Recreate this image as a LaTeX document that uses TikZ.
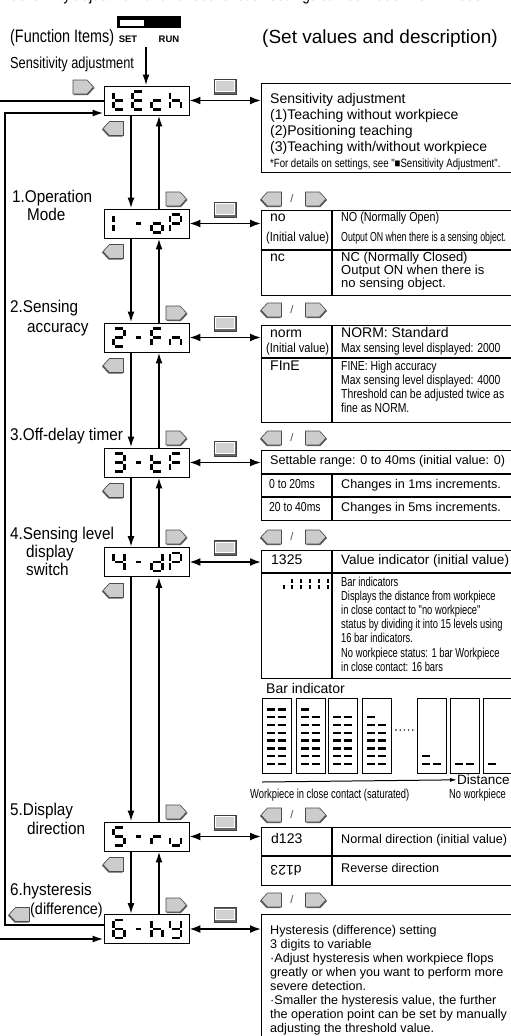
\documentclass[tikz,border=0pt]{standalone}
\usepackage{fontspec}
\usepackage{graphicx}
\setmainfont{Liberation Sans}
\newfontfamily\cnd[FakeStretch=0.8]{Liberation Sans}
\newfontfamily\cnn[FakeStretch=0.72]{Liberation Sans}
\newfontfamily\lab[FakeStretch=0.9]{Liberation Sans}
\usetikzlibrary{arrows.meta}
\newcommand\fs[1]{\fontsize{#1}{#1}\selectfont}
\newcommand\fitto[2]{\resizebox{#1}{\height}{#2}}
% seven segment pieces (cell centre = origin, y down)
\newcommand\SgA{\draw[seg] (-4,-9)--(4,-9);}
\newcommand\SgB{\draw[seg] (5.5,-7.6)--(5.5,-1.2);}
\newcommand\SgC{\draw[seg] (5.5,1.2)--(5.5,7.6);}
\newcommand\SgD{\draw[seg] (-4,9)--(4,9);}
\newcommand\SgE{\draw[seg] (-5.5,1.2)--(-5.5,7.6);}
\newcommand\SgF{\draw[seg] (-5.5,-7.6)--(-5.5,-1.2);}
\newcommand\SgG{\draw[seg] (-4,0)--(4,0);}
\newcommand\SgH{\draw[seg] (-2.5,0)--(2.5,0);}
\newcommand\Ch[3]{\begin{scope}[shift={(#1,#2)}]#3\end{scope}}
\newcommand\Disp[6]{%
  \node[disp] (#1) at (146.5,#2) {};
  \Ch{119}{#2}{#3}\Ch{138}{#2}{#4}\Ch{157}{#2}{#5}\Ch{175.5}{#2}{#6}}
\newcommand\KeyPair[1]{%
  \pic at (271,#1) {lkey};
  \node[inner sep=0pt,font=\fs{11},text=black!70] at (292,#1) {/};
  \pic at (316,#1) {rkey};}
\newcommand\Bars[2]{%
  \foreach \k in {1,...,8}{%
    \pgfmathsetmacro\yy{764-(\k-1)*7.8}
    \ifnum\numexpr2*\k\relax<\numexpr#2+1\relax
      \draw[barl] ({#1+5},\yy) -- ({#1+13},\yy);
      \draw[barl] ({#1+15.5},\yy) -- ({#1+23.5},\yy);
    \else\ifnum\numexpr2*\k-1\relax=#2
      \draw[barl] ({#1+5},\yy) -- ({#1+13},\yy);
    \fi\fi}}
\tikzset{
  seg/.style={line width=2.4pt,line cap=butt},
  disp/.style={draw,line width=0.9pt,minimum width=85pt,minimum height=29pt,inner sep=0pt,fill=white},
  tbl/.style={draw,line width=1.2pt,anchor=north west,minimum width=255pt,inner sep=0pt},
  tline/.style={line width=1.1pt},
  conn/.style={line width=1.8pt},
  arr/.style={conn,-{Latex[length=11pt,width=7pt]}},
  dbl/.style={conn,{Latex[length=11pt,width=8pt]}-{Latex[length=11pt,width=8pt]}},
  txt/.style={inner sep=0pt,anchor=mid west},
  barbox/.style={draw,line width=1.1pt,anchor=north west,minimum width=29pt,minimum height=75pt,inner sep=0pt},
  barl/.style={line width=2.4pt},
  rkey/.pic={
    \fill[black!65] (-9.5,-6) -- (4.5,-6) -- (11,1) -- (4.5,8) -- (-9.5,8) -- cycle;
    \filldraw[fill=black!20,draw=black!70,line width=0.6pt,line join=round]
      (-10.5,-7) -- (3.5,-7) -- (10,0) -- (3.5,7) -- (-10.5,7) -- cycle;},
  lkey/.pic={
    \fill[black!65] (9.5,-6) -- (-4.5,-6) -- (-11,1) -- (-4.5,8) -- (9.5,8) -- cycle;
    \filldraw[fill=black!20,draw=black!70,line width=0.6pt,line join=round]
      (10.5,-7) -- (-3.5,-7) -- (-10,0) -- (-3.5,7) -- (10.5,7) -- cycle;},
  skey/.pic={
    \filldraw[fill=black!60,draw=black!75,line width=0.5pt] (-11,-7.5) rectangle (11,7.5);
    \filldraw[fill=black!18,draw=white,line width=0.5pt] (-9.5,-6) rectangle (9,4.5);},
}
\begin{document}
\begin{tikzpicture}[x=1pt,y=-1pt]
\useasboundingbox (0,0) rectangle (511,1036);
\fill[white] (0,0) rectangle (511,1036);

% heading line (cut at top)
\node[inner sep=0pt,anchor=base west,font=\cnd\fs{17}] (toptxt) at (9,0.5)
  {Sensitivity adjustment and various function settings can be made in SET mode.};

% switch
\node[fill=black,minimum width=64pt,minimum height=12pt,inner sep=0pt,anchor=north west] (sw) at (117,16) {};
\fill[white] (120,19.5) rectangle (144,25.5);
\node[inner sep=0pt,font=\bfseries\fs{9.5}] (set) at (128,39) {SET};
\node[inner sep=0pt,font=\bfseries\fs{9.5}] (run) at (169,39) {RUN};

\node[txt,font=\cnd\fs{18}] (fi) at (10,40) {(Function Items)};
\node[txt,font=\fs{19}] (sv) at (262,41) {(Set values and description)};
\node[txt,font=\cnd\fs{16}] (sa) at (10,66) {Sensitivity adjustment};

% displays
\Disp{b0}{100.5}{\SgF\SgE\SgG\SgD}{\SgA\SgF\SgG\SgE\SgD}{\SgG\SgE\SgD}{\SgF\SgE\SgG\SgC}
\Disp{b1}{223.5}{\SgF\SgE}{\SgH}{\SgG\SgC\SgD\SgE}{\SgA\SgB\SgF\SgG\SgE}
\Disp{b2}{337.5}{\SgA\SgB\SgG\SgE\SgD}{\SgH}{\SgA\SgF\SgG\SgE}{\SgG\SgE\SgC}
\Disp{b3}{462.5}{\SgA\SgB\SgG\SgC\SgD}{\SgH}{\SgF\SgE\SgG\SgD}{\SgA\SgF\SgG\SgE}
\Disp{b4}{562}{\SgF\SgG\SgB\SgC}{\SgH}{\SgB\SgC\SgD\SgE\SgG}{\SgA\SgB\SgF\SgG\SgE}
\Disp{b5}{836.5}{\SgA\SgF\SgG\SgC\SgD}{\SgH}{\SgE\SgG}{\SgE\SgD\SgC}
\Disp{b6}{929}{\SgA\SgF\SgG\SgE\SgD\SgC}{\SgH}{\SgF\SgE\SgG\SgC}{\SgF\SgG\SgB\SgC\SgD}

% SET arrow
\coordinate (setarr) at (146,47);
\draw[arr] (setarr) -- (b0.north -| setarr);

% vertical arrows
\coordinate (dx) at (131,0);
\coordinate (ux) at (159,0);
\foreach \a/\b in {b0/b1,b1/b2,b2/b3,b3/b4,b4/b5,b5/b6}{
  \draw[arr] (\a.south -| dx) -- (\b.north -| dx);
  \draw[arr] (\b.north -| ux) -- (\a.south -| ux);
}

% loops
\coordinate (o1) at (-1,101);
\coordinate (o2) at (-1,939);
\draw[arr] (b0.west |- o1) -- (o1) -- (o2) -- (b6.west |- o2);
\coordinate (i1) at (5,925);
\coordinate (i2) at (5,113);
\draw[arr] (b6.west |- i1) -- (i1) -- (i2) -- (b0.west |- i2);

% key icons near displays
\pic at (83.5,87) {rkey};
\foreach \t in {209,323,448,547,822,915}{\pic at (176.5,\t-10) {rkey};}
\foreach \bt in {115,238,352,477,577,851}{\pic at (113,\bt+13.5) {lkey};}
\pic at (19,914.5) {lkey};
\foreach \ay in {100.5,223.5,337.5,462.5,562,836.5,929}{\pic at (225,\ay-14) {skey};}

% left labels
\node[txt,font=\lab\fs{17}] (l1a) at (12,200) {1.Operation};
\node[txt,font=\lab\fs{17}] (l1b) at (27,218) {Mode};
\node[txt,font=\lab\fs{17}] (l2a) at (10,310) {2.Sensing};
\node[txt,font=\lab\fs{17}] (l2b) at (27,330) {accuracy};
\node[txt,font=\lab\fs{17}] (l3a) at (10,438) {3.Off-delay timer};
\node[txt,font=\lab\fs{17}] (l4a) at (10,537) {4.Sensing level};
\node[txt,font=\lab\fs{17}] (l4b) at (26,555) {display};
\node[txt,font=\lab\fs{17}] (l4c) at (26,573) {switch};
\node[txt,font=\lab\fs{17}] (l5a) at (10,813) {5.Display};
\node[txt,font=\lab\fs{17}] (l5b) at (27,832) {direction};
\node[txt,font=\lab\fs{17}] (l6a) at (10,893) {6.hysteresis};
\node[txt,font=\lab\fs{16}] (l6b) at (30,912) {(difference)};

% ---------- right column ----------
% table 0
\node[tbl,minimum height=89pt] (t0) at (261,83) {};
\node[txt,font=\fs{14}] at (270,101) {Sensitivity adjustment};
\node[txt,font=\fs{14}] at (270,117) {(1)Teaching without workpiece};
\node[txt,font=\fs{14}] at (270,133) {(2)Positioning teaching};
\node[txt,font=\fs{14}] at (270,149) {(3)Teaching with/without workpiece};
\node[txt,font=\cnd\fs{12}] at (270,165) {*For details on settings, see "■Sensitivity Adjustment".};

% table 1
\KeyPair{199}
\node[tbl,minimum height=85pt] (t1) at (261,210) {};
\draw[tline] (261,250) -- (516,250);
\draw[tline] (332,210) -- (332,295);
\node[txt,font=\fs{14}] at (270,219) {no};
\node[txt,font=\cnd\fs{13}] at (266,239) {\fitto{63pt}{(Initial value)}};
\node[txt,font=\cnd\fs{13}] at (341,219) {\fitto{98pt}{NO (Normally Open)}};
\node[txt,font=\cnd\fs{13}] at (341,239) {\fitto{165pt}{Output ON when there is a sensing object.}};
\node[txt,font=\fs{14}] at (270,259) {nc};
\node[txt,font=\fs{13}] at (341,259) {NC (Normally Closed)};
\node[txt,font=\fs{13}] at (341,272) {Output ON when there is};
\node[txt,font=\fs{13}] at (341,285) {no sensing object.};

% table 2
\KeyPair{310}
\node[tbl,minimum height=97pt] (t2) at (261,325) {};
\draw[tline] (261,358) -- (516,358);
\draw[tline] (332,325) -- (332,422);
\node[txt,font=\fs{14}] at (270,335) {norm};
\node[txt,font=\cnd\fs{13}] at (266,350) {\fitto{63pt}{(Initial value)}};
\node[txt,font=\fs{14}] at (341,335) {NORM: Standard};
\node[txt,font=\cnd\fs{13}] at (341,350) {Max sensing level displayed: 2000};
\node[txt,font=\fs{14}] at (270,368) {FInE};
\node[txt,font=\cnd\fs{13}] at (341,368) {FINE: High accuracy};
\node[txt,font=\cnd\fs{13}] at (341,382) {Max sensing level displayed: 4000};
\node[txt,font=\cnd\fs{13}] at (341,396) {Threshold can be adjusted twice as};
\node[txt,font=\cnd\fs{13}] at (341,410) {fine as NORM.};

% table 3
\KeyPair{438}
\node[tbl,minimum height=70pt] (t3) at (261,450) {};
\draw[tline] (261,474) -- (516,474);
\draw[tline] (261,497) -- (516,497);
\draw[tline] (332,474) -- (332,520);
\node[txt,font=\fs{12.6}] at (270,462) {Settable range: 0 to 40ms (initial value: 0)};
\node[txt,font=\cnd\fs{13}] at (269,486) {0 to 20ms};
\node[txt,font=\fs{12.6}] at (341,486) {Changes in 1ms increments.};
\node[txt,font=\cnd\fs{13}] at (269,509) {20 to 40ms};
\node[txt,font=\fs{12.6}] at (341,509) {Changes in 5ms increments.};

% table 4
\KeyPair{537}
\node[tbl,minimum height=128pt] (t4) at (261,550) {};
\draw[tline] (261,573) -- (516,573);
\draw[tline] (332,550) -- (332,678);
\node[txt,font=\fs{14}] at (271,562) {1325};
\node[txt,font=\fs{13.5}] at (341,562) {Value indicator (initial value)};
% small bar glyph
\fill (283,585) rectangle (285.4,589);
\foreach \gx in {291,300,309,318,327}{
  \fill (\gx,578.5) rectangle (\gx+2.4,583);
  \fill (\gx,584.5) rectangle (\gx+2.4,589);}
\node[txt,font=\cnn\fs{13}] at (341,584) {Bar indicators};
\node[txt,font=\cnn\fs{13}] at (341,598) {Displays the distance from workpiece};
\node[txt,font=\cnn\fs{13}] at (341,612) {in close contact to "no workpiece"};
\node[txt,font=\cnn\fs{13}] at (341,626) {status by dividing it into 15 levels using};
\node[txt,font=\cnn\fs{13}] at (341,640) {16 bar indicators.};
\node[txt,font=\cnn\fs{13}] at (341,655) {No workpiece status: 1 bar Workpiece};
\node[txt,font=\cnn\fs{13}] at (341,669) {in close contact: 16 bars};

% bar indicator illustration
\node[txt,font=\fs{14}] (bi) at (266,691) {Bar indicator};
\foreach \bx/\n in {262/16,296/15,328/14,362/13,417/3,450/2,483/1}{
  \node[barbox] at (\bx,698) {};
  \Bars{\bx}{\n}}
\foreach \d in {0,...,4}{\fill (396+\d*4.2,730) circle (0.8);}
\coordinate (da) at (262,782);
\node[txt,font=\fs{13.5}] (dist) at (457,782) {Distance};
\draw[line width=1pt,-{Latex[length=7pt,width=4pt]}] (da) -- (dist.west);
\node[txt,font=\cnn\fs{13}] at (250,796) {Workpiece in close contact (saturated)};
\node[txt,font=\cnn\fs{13}] at (449,796) {No workpiece};

% table 5
\KeyPair{815}
\node[tbl,minimum height=58pt] (t5) at (261,827) {};
\draw[tline] (261,856) -- (516,856);
\draw[tline] (332,827) -- (332,885);
\node[txt,font=\fs{14}] at (271,841) {d123};
\node[txt,font=\fs{12.6}] at (341,841) {Normal direction (initial value)};
\node[inner sep=0pt,font=\fs{14},rotate=180] at (286,870) {d123};
\node[txt,font=\fs{12.6}] at (341,870) {Reverse direction};

% table 6
\KeyPair{900}
\node[tbl,minimum height=130pt] (t6) at (261,914) {};
\node[txt,font=\fs{12.6}] at (270,932) {Hysteresis (difference) setting};
\node[txt,font=\fs{12.6}] at (270,946) {3 digits to variable};
\node[txt,font=\fs{12.6}] at (270,960) {·Adjust hysteresis when workpiece flops};
\node[txt,font=\fs{12.6}] at (270,974) {greatly or when you want to perform more};
\node[txt,font=\fs{12.6}] at (270,988) {severe detection.};
\node[txt,font=\fs{12.6}] at (270,1002) {·Smaller the hysteresis value, the further};
\node[txt,font=\fs{12.6}] at (270,1016) {the operation point can be set by manually};
\node[txt,font=\fs{12.6}] at (270,1030) {adjusting the threshold value.};

% double arrows display <-> description
\foreach \i in {0,...,6}{\draw[dbl] (b\i.east) -- (b\i.east -| t\i.west);}
\end{tikzpicture}
\end{document}
